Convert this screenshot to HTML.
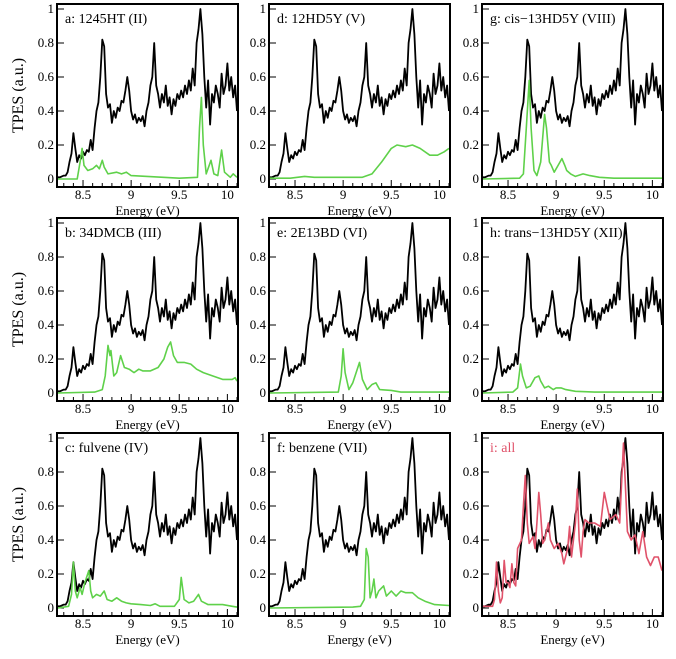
<!DOCTYPE html>
<html><head><meta charset="utf-8"><style>
body{margin:0;background:#fff;}
svg{display:block;font-family:"Liberation Serif",serif;}
</style></head><body>
<svg id="fig" width="676" height="659" viewBox="0 0 676 659"></svg>
<script>
const expE0 = 8.24, expStep = 0.02;
const expValues = [0.01,0.01,0.015,0.02,0.02,0.04,0.1,0.15,0.27,0.18,0.1,0.14,0.12,0.16,0.14,0.17,0.16,0.23,0.17,0.3,0.4,0.45,0.6,0.82,0.78,0.5,0.42,0.44,0.33,0.4,0.36,0.42,0.4,0.46,0.45,0.52,0.6,0.52,0.4,0.35,0.38,0.33,0.36,0.34,0.37,0.31,0.4,0.45,0.55,0.6,0.8,0.55,0.5,0.42,0.5,0.45,0.55,0.43,0.48,0.38,0.47,0.43,0.5,0.47,0.52,0.48,0.55,0.5,0.58,0.52,0.65,0.55,0.8,0.88,1.0,0.85,0.6,0.42,0.58,0.32,0.5,0.45,0.55,0.5,0.42,0.62,0.5,0.55,0.68,0.52,0.6,0.48,0.55,0.4];
const xTicks = [8.5,9,9.5,10];
const xTickLabels = ["8.5","9","9.5","10"];
const yTicks = [0,0.2,0.4,0.6,0.8,1];
const yTickLabels = ["0","0.2","0.4","0.6","0.8","1"];
const panelLabels = ["a: 1245HT (II)","d: 12HD5Y (V)","g: cis\u221213HD5Y (VIII)","b: 34DMCB (III)","e: 2E13BD (VI)","h: trans\u221213HD5Y (XII)","c: fulvene (IV)","f: benzene (VII)","i: all"];
const seriesA = [[8.24,0],[8.44,0],[8.47,0.1],[8.49,0.18],[8.51,0.08],[8.55,0.05],[8.6,0.06],[8.64,0.08],[8.67,0.06],[8.7,0.11],[8.72,0.07],[8.76,0.03],[8.85,0.04],[8.9,0.03],[8.95,0.04],[9.0,0.02],[9.5,0.005],[9.69,0.01],[9.71,0.3],[9.73,0.48],[9.75,0.2],[9.78,0.03],[9.83,0.11],[9.86,0.03],[9.9,0.02],[9.94,0.17],[9.97,0.04],[10.03,0.01],[10.06,0.03],[10.1,0.01]];
const seriesD = [[8.24,0.005],[8.45,0.005],[8.6,0.015],[8.7,0.01],[9.0,0.01],[9.2,0.01],[9.3,0.03],[9.4,0.1],[9.5,0.18],[9.56,0.2],[9.65,0.19],[9.72,0.2],[9.8,0.18],[9.9,0.14],[9.98,0.14],[10.05,0.16],[10.1,0.18]];
const seriesG = [[8.24,0],[8.62,0.005],[8.66,0.03],[8.69,0.3],[8.72,0.58],[8.74,0.3],[8.77,0.05],[8.8,0.02],[8.84,0.1],[8.88,0.38],[8.9,0.3],[8.93,0.1],[8.95,0.08],[8.98,0.04],[9.02,0.08],[9.06,0.12],[9.09,0.08],[9.11,0.05],[9.15,0.03],[9.2,0.015],[9.28,0.03],[9.35,0.02],[9.45,0.01],[9.6,0.005],[10.1,0.005]];
const seriesB = [[8.24,0],[8.62,0.005],[8.7,0.02],[8.73,0.1],[8.76,0.28],[8.78,0.22],[8.79,0.25],[8.82,0.1],[8.85,0.12],[8.89,0.22],[8.93,0.15],[8.98,0.14],[9.03,0.12],[9.08,0.14],[9.12,0.13],[9.2,0.13],[9.28,0.15],[9.34,0.2],[9.38,0.27],[9.41,0.3],[9.44,0.22],[9.48,0.18],[9.55,0.18],[9.62,0.17],[9.68,0.14],[9.75,0.12],[9.85,0.1],[9.95,0.08],[10.05,0.08],[10.08,0.09],[10.1,0.07]];
const seriesE = [[8.24,0],[8.95,0.005],[8.98,0.1],[9.0,0.26],[9.02,0.12],[9.06,0.02],[9.1,0.06],[9.17,0.18],[9.2,0.08],[9.25,0.02],[9.3,0.05],[9.34,0.06],[9.38,0.02],[9.5,0.015],[9.6,0.005],[10.1,0.005]];
const seriesH = [[8.24,0],[8.55,0.005],[8.6,0.03],[8.63,0.17],[8.65,0.1],[8.69,0.03],[8.73,0.04],[8.78,0.09],[8.82,0.1],[8.84,0.07],[8.88,0.03],[8.92,0.04],[8.97,0.02],[9.0,0.03],[9.05,0.03],[9.1,0.02],[9.2,0.01],[9.4,0.005],[10.1,0.005]];
const seriesC = [[8.24,0],[8.35,0.01],[8.38,0.08],[8.40,0.27],[8.42,0.1],[8.44,0.06],[8.47,0.12],[8.49,0.08],[8.52,0.15],[8.56,0.22],[8.58,0.1],[8.6,0.06],[8.64,0.08],[8.68,0.07],[8.72,0.1],[8.75,0.05],[8.8,0.04],[8.85,0.06],[8.9,0.04],[8.95,0.03],[9.0,0.025],[9.1,0.02],[9.2,0.015],[9.25,0.025],[9.3,0.01],[9.45,0.01],[9.5,0.05],[9.52,0.18],[9.55,0.05],[9.6,0.03],[9.65,0.04],[9.7,0.08],[9.73,0.04],[9.8,0.02],[9.95,0.02],[10.05,0.01],[10.1,0.005]];
const seriesF = [[8.24,0],[9.1,0.005],[9.18,0.01],[9.22,0.05],[9.24,0.35],[9.26,0.3],[9.28,0.06],[9.3,0.1],[9.32,0.17],[9.34,0.06],[9.37,0.1],[9.42,0.13],[9.45,0.07],[9.5,0.1],[9.55,0.07],[9.6,0.1],[9.65,0.09],[9.72,0.09],[9.78,0.06],[9.85,0.04],[9.95,0.02],[10.1,0.015]];
const seriesAll = [[8.24,0.01],[8.34,0.01],[8.36,0.05],[8.38,0.27],[8.40,0.1],[8.42,0.03],[8.44,0.06],[8.46,0.28],[8.48,0.15],[8.5,0.15],[8.52,0.12],[8.54,0.26],[8.56,0.15],[8.58,0.13],[8.6,0.35],[8.64,0.4],[8.66,0.6],[8.68,0.78],[8.7,0.5],[8.72,0.38],[8.76,0.42],[8.78,0.35],[8.8,0.5],[8.82,0.68],[8.84,0.55],[8.86,0.38],[8.88,0.4],[8.92,0.5],[8.94,0.4],[8.98,0.35],[9.02,0.38],[9.06,0.32],[9.08,0.26],[9.12,0.35],[9.14,0.48],[9.16,0.3],[9.2,0.5],[9.22,0.7],[9.24,0.4],[9.26,0.3],[9.28,0.45],[9.3,0.52],[9.34,0.5],[9.4,0.5],[9.46,0.48],[9.5,0.68],[9.53,0.6],[9.56,0.52],[9.62,0.55],[9.66,0.5],[9.7,0.97],[9.72,0.72],[9.74,0.45],[9.78,0.4],[9.82,0.43],[9.86,0.32],[9.9,0.45],[9.94,0.3],[9.98,0.25],[10.02,0.3],[10.06,0.3],[10.1,0.22]];
const panelSeries = [seriesA,seriesD,seriesG,seriesB,seriesE,seriesH,seriesC,seriesF,seriesAll];

const NS="http://www.w3.org/2000/svg";
const svg=document.getElementById('fig');
const colLeft=[57,269,482], rowTop=[4,218,433], W=181, H=183;
const xMin=8.24, xMax=10.1;
function mk(tag,attrs,parent){const e=document.createElementNS(NS,tag);for(const k in attrs)e.setAttribute(k,attrs[k]);(parent||svg).appendChild(e);return e;}
for(let p=0;p<9;p++){
  const r=Math.floor(p/3), c=p%3, L=colLeft[c], T=rowTop[r];
  const xs=e=>L+1+(e-xMin)/(xMax-xMin)*(W-2);
  const ys=v=>T+175-v*170;
  const g=mk('g',{});
  
  
  const cp=mk('clipPath',{id:'cp'+p},g);
  mk('rect',{x:L,y:T,width:W,height:H},cp);
  for(let t=8.3;t<=10.1001;t+=0.1){
    const x=xs(t), major=xTicks.some(v=>Math.abs(v-t)<1e-6);
    const tk=mk('line',{x1:x,x2:x,y1:T+H,y2:T+H-(major?7:4),stroke:'#000','stroke-width':1},g);
    
    
  }
  xTicks.forEach((t,i)=>{
    const tl=mk('text',{x:xs(t),y:T+H+12,'font-size':13,'text-anchor':'middle'},g);
    tl.textContent=xTickLabels[i];
    
    
  });
  yTicks.forEach((t,i)=>{
    const y=ys(t);
    const tk=mk('line',{x1:L,x2:L+7,y1:y,y2:y,stroke:'#000','stroke-width':1},g);
    
    
    const tl=mk('text',{x:L-3,y:y+4,'font-size':13,'text-anchor':'end'},g);
    tl.textContent=yTickLabels[i];
    
    
  });
  const ep=expValues.map((v,i)=>xs(expE0+i*expStep).toFixed(1)+','+ys(v).toFixed(1)).join(' ');
  const el=mk('polyline',{points:ep,fill:'none',stroke:'#000','stroke-width':1.8,'stroke-linejoin':'round','clip-path':'url(#cp'+p+')'},g);
  
  
  const sp=panelSeries[p].map(d=>xs(d[0]).toFixed(1)+','+ys(d[1]).toFixed(1)).join(' ');
  const col=p===8?'#e0526a':'#5fd14a';
  const sl=mk('polyline',{points:sp,fill:'none',stroke:col,'stroke-width':1.6,'stroke-linejoin':'round','clip-path':'url(#cp'+p+')'},g);
  
  
  const fr=mk('rect',{x:L,y:T,width:W,height:H,fill:'none',stroke:'#000','stroke-width':2},g);
  
  
  const lb=mk('text',{x:L+8,y:T+19,'font-size':14,fill:p===8?'#e0526a':'#000'},g);
  lb.textContent=panelLabels[p];
  
  
  const xt=mk('text',{x:L+W/2,y:T+H+28,'font-size':13,'text-anchor':'middle'},g);
  xt.textContent='Energy (eV)';
  
  
  if(c===0){
    const yt=mk('text',{x:0,y:0,'font-size':16,'text-anchor':'middle',transform:'translate(23,'+(T+H/2)+') rotate(-90)'},g);
    yt.textContent='TPES (a.u.)';
    
    
  }
}
</script>
</body></html>
